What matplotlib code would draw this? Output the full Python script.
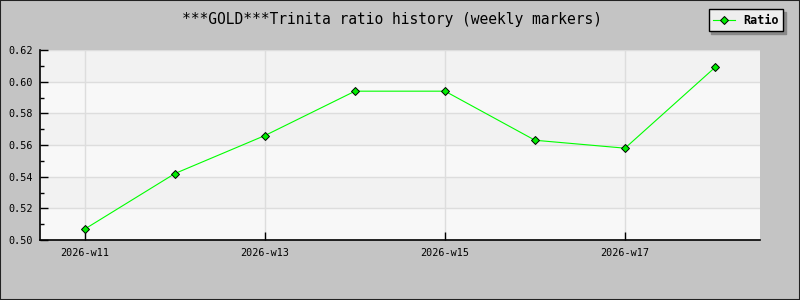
import numpy as np
import matplotlib
matplotlib.use('agg')
import matplotlib.pyplot as plt
from matplotlib.ticker import MultipleLocator

weeks = ['2026-w11', '2026-w12', '2026-w13', '2026-w14',
         '2026-w15', '2026-w16', '2026-w17', '2026-w18']
ratio = [0.507, 0.542, 0.566, 0.594, 0.594, 0.563, 0.558, 0.609]
y_ticks = [0.50, 0.52, 0.54, 0.56, 0.58, 0.60, 0.62]

plt.rcParams['font.family'] = 'DejaVu Sans Mono'

fig = plt.figure(figsize=(8, 3), dpi=100, facecolor='#c4c4c4')
fig.patches.append(plt.Rectangle((0, 0), 1, 1, transform=fig.transFigure,
                                 fill=False, edgecolor='#222222', linewidth=1.5))
ax = fig.add_axes([0.05, 0.2, 0.90, 0.6333])
ax.set_facecolor('#f8f8f8')

x = np.arange(len(weeks))
ax.set_xlim(-0.5, len(weeks) - 0.5)
ax.set_ylim(0.50, 0.62)

# alternating bands (darker starting from second band)
for i in range(len(y_ticks) - 1):
    if i % 2 == 1:
        ax.axhspan(y_ticks[i], y_ticks[i + 1], color='#f2f2f2', zorder=0, lw=0)

ax.set_yticks(y_ticks)
ax.yaxis.set_minor_locator(MultipleLocator(0.01))
ax.set_yticklabels([f'{v:.2f}' for v in y_ticks])
ax.set_xticks(x[::2])
ax.set_xticklabels(weeks[::2])

ax.grid(True, color='#dddddd', linewidth=1, zorder=1)
ax.set_axisbelow(True)

ax.plot(x, ratio, color='#00ff00', linewidth=0.8, marker='D', markersize=4.5,
        markerfacecolor='#00ee00', markeredgecolor='black', markeredgewidth=0.7,
        label='Ratio', zorder=3)

for s in ['top', 'right']:
    ax.spines[s].set_visible(False)
for s in ['left', 'bottom']:
    ax.spines[s].set_color('black')
    ax.spines[s].set_linewidth(1.2)

ax.tick_params(axis='both', which='major', direction='in', length=6, width=1,
               labelsize=7.3, colors='black')
ax.tick_params(axis='y', which='minor', direction='in', length=3, width=1)
ax.tick_params(axis='x', pad=6)
ax.tick_params(axis='y', pad=5)

fig.text(0.49, 0.935, '***GOLD***Trinita ratio history (weekly markers)',
         ha='center', va='center', fontsize=10.5)

leg = fig.legend(loc='upper right', bbox_to_anchor=(0.979, 0.97), borderaxespad=0,
                 fontsize=8.5, frameon=True, fancybox=False,
                 shadow={'color': '#888888', 'alpha': 1},
                 handlelength=1.8, borderpad=0.4, handletextpad=0.7)
leg.get_frame().set_facecolor('#eeeeee')
leg.get_frame().set_edgecolor('black')
leg.get_frame().set_alpha(1)
for t in leg.get_texts():
    t.set_fontweight('bold')

fig.savefig('out.png', dpi=100, facecolor=fig.get_facecolor())
